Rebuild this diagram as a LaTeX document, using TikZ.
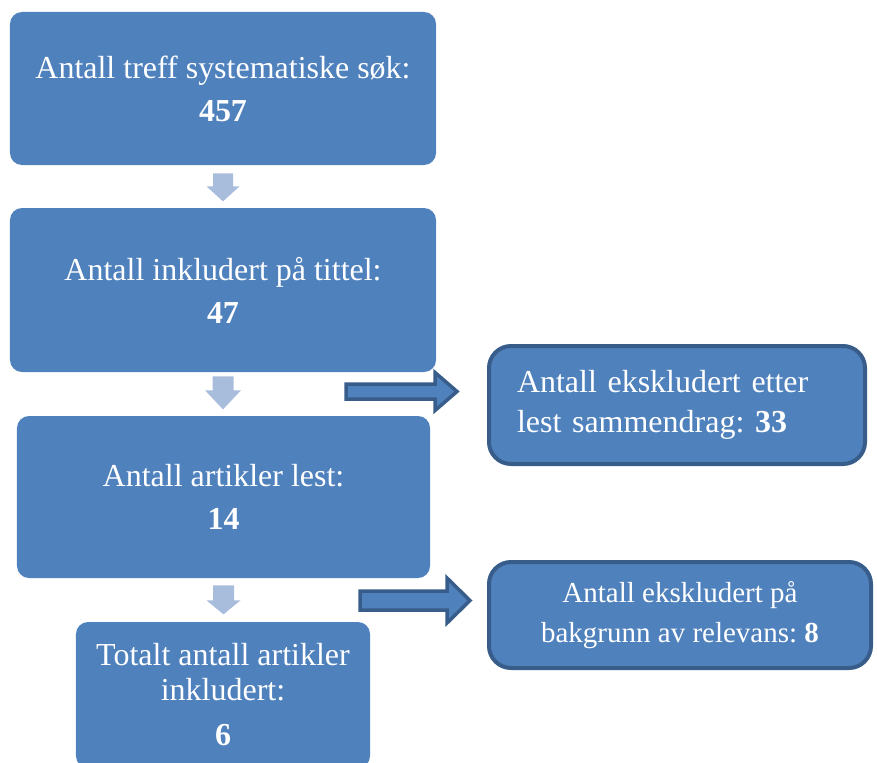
\documentclass[tikz,border=0pt]{standalone}
\usepackage{fontspec}
\setmainfont{Liberation Serif}
\frenchspacing
\usetikzlibrary{positioning, calc}
\definecolor{BoxBlue}{HTML}{4F81BD}
\definecolor{EdgeBlue}{HTML}{385D8A}
\definecolor{PaleBlue}{HTML}{A8BCDC}
\tikzstyle{Box} = [
rectangle, rounded corners=2.4mm,
fill=BoxBlue, text=white, inner sep=0pt,
align=center,
font=\fontsize{18.2}{24.5}\selectfont]
\tikzstyle{ExclBox} = [
rectangle, rounded corners=4.4mm,
fill=BoxBlue, draw=EdgeBlue, line width=0.8mm,
text=white, inner sep=0pt]
\tikzstyle{DownBlock} = [fill=PaleBlue]
\tikzstyle{SideBlock} = [fill=BoxBlue, draw=EdgeBlue, line width=0.7mm]
% block arrows: style, start, length, shaft half width, head half width, head length
\newcommand{\downblock}[6]{%
  \path[#1] (#2) ++(-#4,0) -- ++(0,#3-#6) -- ++(-#5+#4,0) -- ++(#5,#6)
    -- ++(#5,-#6) -- ++(-#5+#4,0) -- ++(0,-#3+#6) -- cycle;}
\newcommand{\rightblock}[6]{%
  \path[#1] (#2) ++(0,-#4) -- ++(#3-#6,0) -- ++(0,-#5+#4) -- ++(#6,#5)
    -- ++(-#6,#5) -- ++(0,-#5+#4) -- ++(-#3+#6,0) -- cycle;}

\begin{document}
\begin{tikzpicture}[x=0.2mm, y=-0.2mm]
    \useasboundingbox (0,0) rectangle (877,763);

    \node [Box, minimum width=85.2mm, minimum height=30.6mm](b1) at (223,88.5)
        {Antall treff systematiske søk:\\ \textbf{457}};
    \node [Box, minimum width=85.2mm, minimum height=32.8mm](b2) at (223,290)
        {Antall inkludert på tittel:\\ \textbf{47}};
    \node [Box, minimum width=82.6mm, minimum height=32.4mm](b3) at (223.5,497)
        {Antall artikler lest:\\ \textbf{14}};
    \node [Box, minimum width=58.8mm, minimum height=29.2mm,
        font=\fontsize{18.2}{19.9}\selectfont](b4) at (223,695)
        {Totalt antall artikler\\ inkludert:\\[5.7pt] \textbf{6}};

    \node [ExclBox, minimum width=75.2mm, minimum height=23.6mm,
        text width=64mm, align=left,
        font=\fontsize{18.2}{22.8}\selectfont](e1) at (677,405)
        {Antall ekskludert etter\\ lest sammendrag: \textbf{33}};
    \node [ExclBox, minimum width=76.4mm, minimum height=21.2mm,
        align=center,
        font=\fontsize{16.5}{22.8}\selectfont](e2) at (680,615)
        {Antall ekskludert på\\ bakgrunn av relevans: \textbf{8}};

    \coordinate (d1) at ($(b1.south)+(0,8)$);
    \coordinate (d2) at ($(b2.south)+(0,4)$);
    \coordinate (d3) at ($(b3.south)+(0,7)$);
    \coordinate (r1) at (346,391.5);
    \coordinate (r2) at (360,600.5);

    \downblock{DownBlock}{d1}{28}{10}{16.5}{15}
    \downblock{DownBlock}{d2}{33}{10.5}{18}{19}
    \downblock{DownBlock}{d3}{29}{10.5}{17}{14}

    \rightblock{SideBlock}{r1}{111}{7.5}{19}{22}
    \rightblock{SideBlock}{r2}{110}{9.5}{22.5}{23}
\end{tikzpicture}
\end{document}
